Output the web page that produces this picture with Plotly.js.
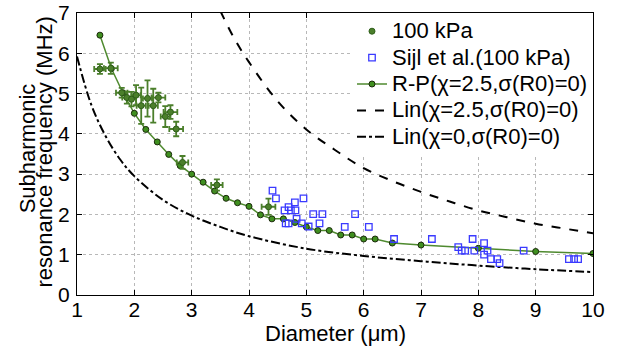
<!DOCTYPE html>
<html>
<head>
<meta charset="utf-8">
<script src="https://cdn.plot.ly/plotly-3.0.1.min.js"></script>
<style>html,body{margin:0;padding:0;background:#fff;}#chart{width:618px;height:349px;}</style>
</head>
<body>
<div id="chart"></div>
<script>
// 100 kPa measurements (with error bars)
const expX  = [1.40, 1.59, 1.78, 1.87, 1.95, 2.03, 2.12, 2.23, 2.33, 2.42, 2.54, 2.63, 2.73, 2.84, 3.44, 4.34];
const expY  = [5.61, 5.63, 5.02, 4.90, 4.86, 4.96, 4.70, 4.88, 4.70, 4.90, 4.43, 4.54, 4.12, 3.29, 2.73, 2.19];
const expEx = [0.10, 0.12, 0.10, 0.08, 0.08, 0.08, 0.08, 0.08, 0.08, 0.12, 0.08, 0.12, 0.12, 0.10, 0.10, 0.12];
const expEy = [0.12, 0.14, 0.12, 0.15, 0.18, 0.25, 0.45, 0.45, 0.42, 0.12, 0.26, 0.17, 0.18, 0.16, 0.14, 0.20];

// Sijl et al. (100 kPa)
const sijlX = [4.41, 4.47, 4.62, 4.69, 4.73, 4.80, 4.81, 4.64, 4.69, 4.83, 4.95, 4.92, 5.12, 5.28, 5.23, 5.04,
               5.67, 5.85, 6.09, 6.53, 7.19, 7.65, 7.71, 7.77, 7.90, 7.93, 8.10, 8.16, 8.10, 8.22, 8.33, 8.37,
               8.79, 9.58, 9.67, 9.74];
const sijlY = [2.59, 2.40, 2.10, 2.18, 2.10, 2.30, 2.10, 1.78, 1.78, 1.89, 2.40, 1.78, 2.01, 2.01, 1.78, 1.70,
               1.69, 2.01, 1.69, 1.39, 1.39, 1.19, 1.10, 1.10, 1.39, 1.10, 1.29, 1.10, 1.00, 0.89, 0.89, 0.79,
               1.10, 0.89, 0.89, 0.89];

// R-P model (chi=2.5, sigma(R0)=0)
const rpX = [1.4, 1.6, 1.8, 2.0, 2.2, 2.4, 2.6, 2.8, 3.0, 3.2, 3.4, 3.6, 3.8, 4.0, 4.2, 4.4, 4.6, 4.8, 5.0,
             5.2, 5.4, 5.6, 5.8, 6.0, 6.2, 6.5, 7, 8, 9, 10];
const rpY = [6.45, 5.62, 5.02, 4.51, 4.11, 3.80, 3.49, 3.21, 3.00, 2.80, 2.58, 2.40, 2.29, 2.20, 1.99, 1.89,
             1.89, 1.80, 1.69, 1.60, 1.60, 1.49, 1.49, 1.39, 1.39, 1.29, 1.24, 1.16, 1.08, 1.03];

// Lin model (chi=2.5)
const lin25X = [3.5, 3.75, 4.0, 4.5, 5.0, 5.5, 6.0, 6.5, 7.0, 7.5, 8.0, 8.5, 9.0, 9.5, 10];
const lin25Y = [7.05, 6.35, 5.78, 4.81, 4.11, 3.60, 3.15, 2.83, 2.56, 2.32, 2.10, 1.93, 1.77, 1.65, 1.53];

// Lin model (chi=0)
const lin0X = [1.0, 1.25, 1.5, 1.75, 2.0, 2.5, 3.0, 3.5, 4.0, 5.0, 6.0, 7.0, 8.0, 9.0, 10];
const lin0Y = [5.92, 4.72, 3.94, 3.37, 2.95, 2.36, 1.97, 1.69, 1.46, 1.15, 0.97, 0.84, 0.73, 0.64, 0.57];

const xTicks = [1, 2, 3, 4, 5, 6, 7, 8, 9, 10];
const yTicks = [0, 1, 2, 3, 4, 5, 6, 7];

const FONT = 'Arial, "Liberation Sans", sans-serif';
const green = '#4b7f2b';
const big = s => '<span style="font-size:22px">' + s + '</span>';

const traces = [
  { x: lin25X, y: lin25Y, mode: 'lines', line: { color: '#000', width: 2, dash: 'dash', shape: 'spline' },
    name: big('Lin(χ=2.5,σ(R0)=0)'), legendrank: 4 },
  { x: lin0X, y: lin0Y, mode: 'lines', line: { color: '#000', width: 2, dash: 'dashdot', shape: 'spline' },
    name: big('Lin(χ=0,σ(R0)=0)'), legendrank: 5 },
  { x: rpX, y: rpY, mode: 'lines+markers', line: { color: '#4f8a2f', width: 1.5 },
    marker: { symbol: 'circle', size: 6, color: '#3f8f1f', line: { color: '#1b2a0b', width: 1 } },
    name: big('R-P(χ=2.5,σ(R0)=0)'), legendrank: 3 },
  { x: sijlX, y: sijlY, mode: 'markers',
    marker: { symbol: 'square-open', size: 6.5, color: '#3a3aff', line: { width: 1.3 } },
    name: big('Sijl et al.(100 kPa)'), legendrank: 2 },
  { x: expX, y: expY, mode: 'markers',
    marker: { symbol: 'circle', size: 6, color: green, line: { color: '#2f5f1a', width: 1 } },
    error_x: { type: 'data', array: expEx, visible: true, color: green, thickness: 1.8, width: 3 },
    error_y: { type: 'data', array: expEy, visible: true, color: green, thickness: 1.8, width: 3 },
    name: big('100 kPa'), legendrank: 1 }
];

const axisCommon = {
  showline: true, linecolor: '#000', linewidth: 1, mirror: 'ticks',
  ticks: 'inside', ticklen: 5, tickcolor: '#000',
  showgrid: true, gridcolor: '#b8b8b8', griddash: 'dot', gridwidth: 1,
  zeroline: false, tickfont: { family: FONT, size: 21, color: '#000' }
};

const titleFont = { family: FONT, size: 22, color: '#000' };

const layout = {
  width: 618, height: 349,
  margin: { l: 77, r: 25, t: 13, b: 54 },
  paper_bgcolor: '#fff', plot_bgcolor: '#fff',
  showlegend: true,
  legend: { x: 1, y: 1, xanchor: 'right', yanchor: 'top', bgcolor: '#fff', borderwidth: 0,
            font: { family: FONT, size: 18, color: '#000' }, tracegroupgap: 0 },
  xaxis: Object.assign({}, axisCommon, {
    range: [1, 10], tickvals: xTicks, ticktext: xTicks.map(String), ticklabelstandoff: -4
  }),
  yaxis: Object.assign({}, axisCommon, {
    range: [0, 7], tickvals: yTicks, ticktext: yTicks.map(String), ticklabelstandoff: 2
  }),
  annotations: [
    { text: 'Diameter (μm)', xref: 'paper', yref: 'paper', x: 0.5, y: -0.1355,
      xanchor: 'center', yanchor: 'middle', showarrow: false, font: titleFont },
    { text: 'Subharmonic', textangle: -90, xref: 'paper', yref: 'paper', x: -0.097, y: 0.52,
      xanchor: 'center', yanchor: 'middle', showarrow: false, font: titleFont },
    { text: 'resonance frequency (MHz)', textangle: -90, xref: 'paper', yref: 'paper', x: -0.062, y: 0.505,
      xanchor: 'center', yanchor: 'middle', showarrow: false, font: titleFont }
  ]
};

Plotly.newPlot('chart', traces, layout, { displayModeBar: false, staticPlot: true });
</script>
</body>
</html>
